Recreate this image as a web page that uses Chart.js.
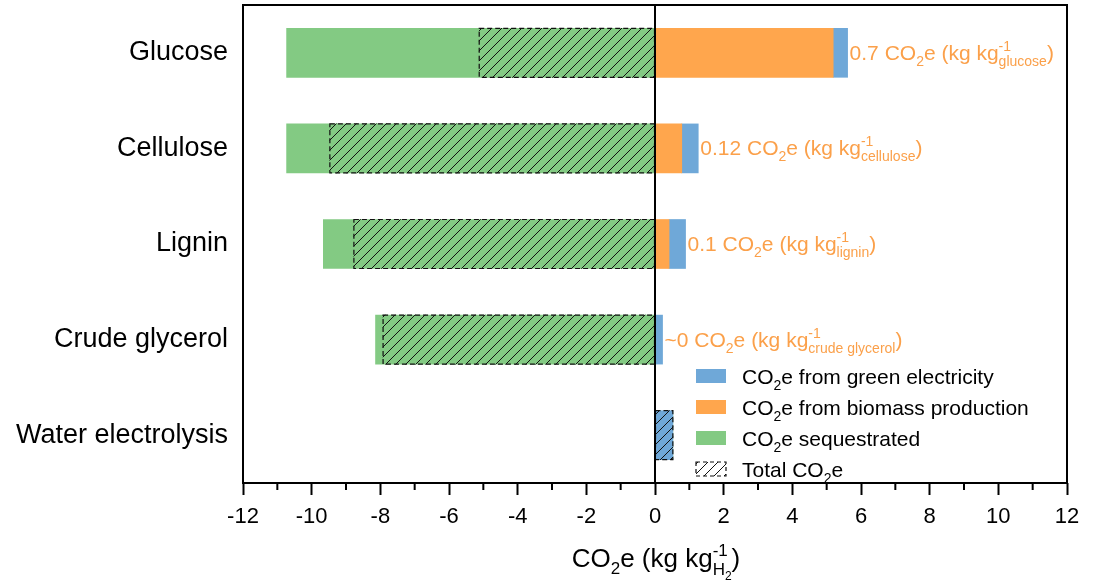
<!DOCTYPE html>
<html>
<head>
<meta charset="utf-8">
<script src="https://cdn.jsdelivr.net/npm/chart.js@4.4.0/dist/chart.umd.min.js"></script>
<style>
    html, body { margin: 0; padding: 0; background: #fff; }
    #wrap { width: 1095px; height: 584px; }
</style>
</head>
<body>
<div id="wrap"><canvas id="co2Chart" width="1095" height="584"></canvas></div>
<script>
// dati (kg CO2e / kg H2)
const categories = ["Glucose", "Cellulose", "Lignin", "Crude glycerol", "Water electrolysis"];
const sequestered = [-10.73, -10.73, -9.66, -8.14, 0];
const biomass = [5.19, 0.78, 0.41, 0, 0];
const electricity = [0.42, 0.48, 0.48, 0.22, 0.52];
const totalCO2 = [-5.12, -9.47, -8.77, -7.92, 0.52];

// etichette arancioni accanto alle barre
const annotValue = ["0.7", "0.12", "0.1", "~0"];
const annotFeed = ["glucose", "cellulose", "lignin", "crude glycerol"];

const legendLabels = ["from green electricity", "from biomass production", "sequestrated", "Total"];

const BLUE = "#6FA8D8";
const ORANGE = "#FFA64D";
const GREEN = "#83CA83";
const TEXT_ORANGE = "#FBA04A";
const FONT = "Arial, 'Liberation Sans', sans-serif";

const canvas = document.getElementById("co2Chart");
const ctx = canvas.getContext("2d");

// pattern tratteggiato per il totale
function makeHatch(bg) {
    const s = 10;
    const c = document.createElement("canvas");
    c.width = s;
    c.height = s;
    const g = c.getContext("2d");
    if (bg) {
        g.fillStyle = bg;
        g.fillRect(0, 0, s, s);
    }
    g.strokeStyle = "#111";
    g.lineWidth = 1;
    g.beginPath();
    g.moveTo(0, s); g.lineTo(s, 0);
    g.moveTo(-2, 2); g.lineTo(2, -2);
    g.moveTo(s - 2, s + 2); g.lineTo(s + 2, s - 2);
    g.stroke();
    return ctx.createPattern(c, "repeat");
}
const hatch = makeHatch(null);
const hatchWhite = makeHatch("#fff");

// testo con pedici / apici
function setFont(c, size) { c.font = size + "px " + FONT; }
function partWidth(c, p) {
    if (p.over) return Math.max(richWidth(c, [p.over]), richWidth(c, p.under));
    setFont(c, p.s);
    return c.measureText(p.t).width;
}
function richWidth(c, parts) {
    return parts.reduce((w, p) => w + partWidth(c, p), 0);
}
function drawRich(c, parts, x, y) {
    for (const p of parts) {
        if (p.over) {
            drawRich(c, [p.over], x, y);
            drawRich(c, p.under, x, y);
        } else {
            setFont(c, p.s);
            c.fillText(p.t, x, y + (p.dy || 0));
        }
        x += partWidth(c, p);
    }
}
function co2e(size, sub, before, after, dy) {
    return [
        { t: (before || "") + "CO", s: size },
        { t: "2", s: sub, dy: dy || 6 },
        { t: "e" + (after || ""), s: size },
    ];
}

const overlayPlugin = {
    id: "overlay",
    afterDatasetsDraw(chart) {
        const c = chart.ctx;
        const area = chart.chartArea;
        // bordo tratteggiato delle barre "Total"
        const meta = chart.getDatasetMeta(0);
        c.save();
        c.strokeStyle = "#111";
        c.lineWidth = 1.2;
        c.setLineDash([5, 3]);
        meta.data.forEach(bar => {
            const p = bar.getProps(["x", "y", "base", "height"], true);
            const l = Math.min(p.x, p.base);
            c.strokeRect(l, p.y - p.height / 2, Math.abs(p.x - p.base), p.height);
        });
        c.restore();
        // linea dello zero
        const x0 = chart.scales.x.getPixelForValue(0);
        c.save();
        c.strokeStyle = "#000";
        c.lineWidth = 2;
        c.beginPath();
        c.moveTo(x0, area.top);
        c.lineTo(x0, area.bottom);
        c.stroke();
        c.restore();
    },
    afterDraw(chart) {
        const c = chart.ctx;
        const area = chart.chartArea;
        const xs = chart.scales.x;
        c.save();
        // cornice
        c.strokeStyle = "#000";
        c.lineWidth = 2;
        c.strokeRect(area.left, area.top, area.right - area.left, area.bottom - area.top);
        // tacche minori
        c.beginPath();
        for (let v = xs.min + 1; v < xs.max; v += 2) {
            const px = xs.getPixelForValue(v);
            c.moveTo(px, area.bottom);
            c.lineTo(px, area.bottom + 7);
        }
        c.stroke();

        // etichette arancioni
        const elMeta = chart.getDatasetMeta(2);
        c.fillStyle = TEXT_ORANGE;
        c.textBaseline = "alphabetic";
        c.textAlign = "left";
        annotValue.forEach((val, i) => {
            const bar = elMeta.data[i];
            const parts = co2e(21, 14, val + " ", " (kg kg").concat([
                { over: { t: "-1", s: 14, dy: -9 }, under: [{ t: annotFeed[i], s: 14, dy: 6 }] },
                { t: ")", s: 21 },
            ]);
            drawRich(c, parts, bar.x + 2, bar.y + 7);
        });

        // legenda
        const colors = [BLUE, ORANGE, GREEN, null];
        const lx = 696, ly = 376, step = 31;
        legendLabels.forEach((lab, i) => {
            const cy = ly + i * step;
            if (colors[i]) {
                c.fillStyle = colors[i];
                c.fillRect(lx, cy - 7, 30, 14);
            } else {
                c.fillStyle = hatchWhite;
                c.fillRect(lx, cy - 7, 30, 14);
                c.save();
                c.setLineDash([4, 3]);
                c.lineWidth = 1.2;
                c.strokeStyle = "#111";
                c.strokeRect(lx, cy - 7, 30, 14);
                c.restore();
            }
            c.fillStyle = "#000";
            const parts = colors[i] ? co2e(21, 14, "", " " + lab) : co2e(21, 14, lab + " ", "");
            drawRich(c, parts, 742, cy + 8);
        });

        // titolo asse x
        const title = co2e(26, 17, "", " (kg kg", 7).concat([
            { over: { t: "-1", s: 17, dy: -11 }, under: [{ t: "H", s: 17, dy: 8 }, { t: "2", s: 12, dy: 13 }] },
            { t: ")", s: 26 },
        ]);
        c.fillStyle = "#000";
        const tw = richWidth(c, title);
        drawRich(c, title, (area.left + area.right) / 2 - tw / 2 + 1, 567);
        c.restore();
    },
};

function makeSet(label, data, color, stack) {
    return {
        label: label,
        data: data,
        backgroundColor: color,
        borderWidth: 0,
        stack: stack,
        grouped: false,
        barThickness: 49,
    };
}

const myChart = new Chart(ctx, {
    type: "bar",
    data: {
        labels: categories,
        datasets: [
            makeSet("Total CO2e", totalCO2, hatch, "total"),
            makeSet("CO2e from biomass production", biomass, ORANGE, "parts"),
            makeSet("CO2e from green electricity", electricity, BLUE, "parts"),
            makeSet("CO2e sequestrated", sequestered, GREEN, "parts"),
        ],
    },
    options: {
        indexAxis: "y",
        responsive: false,
        animation: false,
        events: [],
        layout: { padding: { top: 5, right: 28, left: 0, bottom: 0 } },
        plugins: {
            legend: { display: false },
            tooltip: { enabled: false },
        },
        scales: {
            x: {
                type: "linear",
                stacked: true,
                min: -12,
                max: 12,
                ticks: {
                    stepSize: 2,
                    color: "#000",
                    padding: 9,
                    font: { size: 22, family: FONT },
                },
                grid: {
                    drawOnChartArea: false,
                    drawTicks: true,
                    tickLength: 12,
                    tickWidth: 2,
                    tickColor: "#000",
                },
                border: { display: false },
                afterFit: s => { s.height = 101; s.paddingLeft = 0; s.paddingRight = 0; },
            },
            y: {
                stacked: true,
                ticks: {
                    color: "#000",
                    padding: 15,
                    font: { size: 27, family: FONT },
                },
                grid: { display: false, drawTicks: false },
                border: { display: false },
                afterFit: s => { s.width = 243; s.paddingTop = 0; s.paddingBottom = 0; },
            },
        },
    },
    plugins: [overlayPlugin],
});
</script>
</body>
</html>
